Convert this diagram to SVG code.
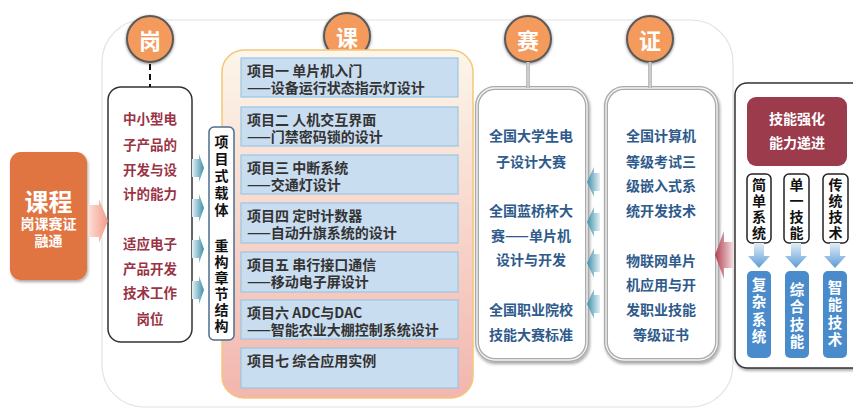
<svg xmlns="http://www.w3.org/2000/svg" width="853" height="408" viewBox="0 0 853 408">
<defs>
<style>
text{font-family:"Noto Sans CJK SC","Noto Sans",sans-serif;font-weight:bold;dominant-baseline:central}
.c{text-anchor:middle}
.proj{fill:#C9DDF0;stroke:#9CC6E2;stroke-width:1.2}
.pt{font-size:14px;fill:#333}
.gt{font-size:13.5px;fill:#9A3345;text-anchor:middle}
.st{font-size:14px;fill:#2E5A8C;text-anchor:middle}
.circ{fill:#F39A5C;stroke:#5A5A5A;stroke-width:2}
.ct{font-size:22px;fill:#fff;text-anchor:middle}
.vt{font-size:14px;fill:#111;writing-mode:tb;text-orientation:upright}
.wt{font-size:14.5px;fill:#fff;writing-mode:tb;text-orientation:upright;letter-spacing:3px}
.sb1{fill:#fff;stroke:#ABABAB;stroke-width:4}
.sb2{fill:none;stroke:#F4F4F4;stroke-width:1.3}
.small{fill:#fff;stroke:#222;stroke-width:1.5}
.blue{fill:#4A8BCB}
</style>
<filter id="sh" x="-20%" y="-20%" width="140%" height="140%"><feDropShadow dx="1" dy="2" stdDeviation="1.5" flood-color="#000" flood-opacity="0.35"/></filter>
<filter id="csh" x="-30%" y="-30%" width="160%" height="160%"><feDropShadow dx="0" dy="1" stdDeviation="1.5" flood-color="#000" flood-opacity="0.45"/></filter>
<linearGradient id="projbg" x1="0" y1="0" x2="0" y2="1"><stop offset="0" stop-color="#FDF6EA"/><stop offset="1" stop-color="#F2B6AE"/></linearGradient>
<linearGradient id="tealR" x1="0" y1="0" x2="1" y2="0"><stop offset="0" stop-color="#E4F0F4"/><stop offset="1" stop-color="#3E8FAA"/></linearGradient>
<linearGradient id="tealL" x1="1" y1="0" x2="0" y2="0"><stop offset="0" stop-color="#E4F0F4"/><stop offset="1" stop-color="#3E8FAA"/></linearGradient>
<linearGradient id="pinkR" x1="0" y1="0" x2="1" y2="0"><stop offset="0" stop-color="#FCE0D8"/><stop offset="1" stop-color="#F39A88"/></linearGradient>
<linearGradient id="redL" x1="1" y1="0" x2="0" y2="0"><stop offset="0" stop-color="#F4E4E6"/><stop offset="1" stop-color="#B2404F"/></linearGradient>
<linearGradient id="blueD" x1="0" y1="0" x2="0" y2="1"><stop offset="0" stop-color="#E2EEF9"/><stop offset="1" stop-color="#5C9BD6"/></linearGradient>
</defs>

<g id="background">
<rect x="102" y="20" width="631" height="387" rx="42" fill="#fff" stroke="#E2E2E2" stroke-width="1.2"/>
</g>

<g id="course">
<rect x="10" y="152" width="77" height="128" rx="11" fill="#E07442" filter="url(#sh)"/>
<text class="c" style="fill:#fff"><tspan x="48.5" y="200" style="font-size:24px">课程</tspan><tspan x="48.5" y="223" style="font-size:14px">岗课赛证</tspan><tspan x="48.5" y="240" style="font-size:14px">融通</tspan></text>
</g>

<g id="gang-circle">
<circle cx="150" cy="39" r="23" class="circ" filter="url(#csh)"/>
<text x="150" y="39" class="ct">岗</text>
</g>

<g id="gang-box">
<rect x="108" y="87" width="84" height="255" rx="13" fill="#fff" stroke="#333" stroke-width="1.5"/>
<text x="150" y="118" class="gt">中小型电</text>
<text x="150" y="144" class="gt">子产品的</text>
<text x="150" y="169" class="gt">开发与设</text>
<text x="150" y="193" class="gt">计的能力</text>
<text x="150" y="243" class="gt">适应电子</text>
<text x="150" y="268" class="gt">产品开发</text>
<text x="150" y="292" class="gt">技术工作</text>
<text x="150" y="318" class="gt">岗位</text>
</g>

<g id="ke-circle">
<circle cx="347" cy="36" r="23" class="circ" filter="url(#csh)"/>
<text x="347" y="36" class="ct">课</text>
</g>

<g id="projects">
<rect x="222" y="50" width="251" height="348" rx="22" fill="url(#projbg)" stroke="#F5C67A" stroke-width="1.5"/>
<g id="project1"><rect x="241" y="58" width="217" height="39" class="proj"/>
<text class="pt"><tspan x="247" y="70">项目一 单片机入门</tspan><tspan x="247" y="87">——设备运行状态指示灯设计</tspan></text></g>
<g id="project2"><rect x="241" y="107" width="217" height="39" class="proj"/>
<text class="pt"><tspan x="247" y="119">项目二 人机交互界面</tspan><tspan x="247" y="136">——门禁密码锁的设计</tspan></text></g>
<g id="project3"><rect x="241" y="155" width="217" height="39" class="proj"/>
<text class="pt"><tspan x="247" y="167">项目三 中断系统</tspan><tspan x="247" y="184">——交通灯设计</tspan></text></g>
<g id="project4"><rect x="241" y="203" width="217" height="40" class="proj"/>
<text class="pt"><tspan x="247" y="215">项目四 定时计数器</tspan><tspan x="247" y="232">——自动升旗系统的设计</tspan></text></g>
<g id="project5"><rect x="241" y="252" width="217" height="40" class="proj"/>
<text class="pt"><tspan x="247" y="264">项目五 串行接口通信</tspan><tspan x="247" y="281">——移动电子屏设计</tspan></text></g>
<g id="project6"><rect x="241" y="300" width="217" height="39" class="proj"/>
<text class="pt"><tspan x="247" y="312">项目六 ADC与DAC</tspan><tspan x="247" y="329">——智能农业大棚控制系统设计</tspan></text></g>
<g id="project7"><rect x="241" y="348" width="217" height="40" class="proj"/>
<text x="247" y="360" class="pt">项目七 综合应用实例</text></g>
</g>

<g id="carrier-box">
<rect x="209" y="127" width="25" height="213" rx="5" fill="#fff" stroke="#4C6E8E" stroke-width="1.5"/>
<text x="221.5" y="135" class="vt" style="letter-spacing:3px">项目式载体</text>
<text x="221.5" y="239" class="vt" style="letter-spacing:2px">重构章节结构</text>
</g>

<g id="sai-circle">
<circle cx="528" cy="39" r="23" class="circ" filter="url(#csh)"/>
<text x="528" y="39" class="ct">赛</text>
</g>

<g id="sai-box">
<rect x="477" y="88" width="110" height="272" rx="18" class="sb1" filter="url(#sh)"/>
<rect x="477" y="88" width="110" height="272" rx="18" class="sb2"/>
<text x="531" y="135" class="st">全国大学生电</text>
<text x="531" y="161" class="st">子设计大赛</text>
<text x="531" y="210" class="st">全国蓝桥杯大</text>
<text x="531" y="235" class="st">赛——单片机</text>
<text x="531" y="259" class="st">设计与开发</text>
<text x="531" y="309" class="st">全国职业院校</text>
<text x="531" y="334" class="st">技能大赛标准</text>
</g>

<g id="zheng-circle">
<circle cx="650" cy="39" r="23" class="circ" filter="url(#csh)"/>
<text x="650" y="39" class="ct">证</text>
</g>

<g id="zheng-box">
<rect x="606" y="88" width="111" height="272" rx="18" class="sb1" filter="url(#sh)"/>
<rect x="606" y="88" width="111" height="272" rx="18" class="sb2"/>
<text x="661" y="135" class="st">全国计算机</text>
<text x="661" y="161" class="st">等级考试三</text>
<text x="661" y="185" class="st">级嵌入式系</text>
<text x="661" y="210" class="st">统开发技术</text>
<text x="661" y="260" class="st">物联网单片</text>
<text x="661" y="284" class="st">机应用与开</text>
<text x="661" y="309" class="st">发职业技能</text>
<text x="661" y="334" class="st">等级证书</text>
</g>

<g id="skill-panel">
<rect x="735" y="83" width="130" height="285" rx="12" fill="#fff" stroke="#333" stroke-width="1.5" filter="url(#sh)"/>
<g id="skill-title"><rect x="747" y="97" width="100" height="69" rx="9" fill="#9B3B4B"/>
<text x="797" y="118" class="c" style="font-size:14px;fill:#fff">技能强化</text>
<text x="797" y="142" class="c" style="font-size:14px;fill:#fff">能力递进</text></g>
<g id="simple"><rect x="747" y="174" width="24" height="69" rx="5" class="small"/>
<text x="759" y="178" class="vt" style="letter-spacing:2px">简单系统</text></g>
<g id="single"><rect x="784" y="174" width="25" height="69" rx="5" class="small"/>
<text x="796.5" y="178" class="vt" style="letter-spacing:2px">单一技能</text></g>
<g id="traditional"><rect x="823" y="174" width="25" height="69" rx="5" class="small"/>
<text x="835.5" y="178" class="vt" style="letter-spacing:2px">传统技术</text></g>
<g id="complex"><rect x="747" y="271" width="24" height="87" rx="5" class="blue"/>
<text x="759" y="277" class="wt">复杂系统</text></g>
<g id="integrated"><rect x="785" y="271" width="24" height="87" rx="5" class="blue"/>
<text x="797" y="282" class="wt">综合技能</text></g>
<g id="smart"><rect x="823" y="271" width="24" height="87" rx="5" class="blue"/>
<text x="835" y="280" class="wt">智能技术</text></g>
</g>

<g id="connectors">
<polygon points="88,205 99,205 99,199 108,221 99,243 99,237 88,237" fill="url(#pinkR)"/>
<line x1="150" y1="64" x2="150" y2="87" stroke="#111" stroke-width="2" stroke-dasharray="6,4"/>
<line x1="528" y1="62" x2="528" y2="88" stroke="#A8A8A8" stroke-width="3.5"/>
<line x1="528" y1="62" x2="528" y2="88" stroke="#F0F0F0" stroke-width="1"/>
<line x1="650" y1="62" x2="650" y2="88" stroke="#A8A8A8" stroke-width="3.5"/>
<line x1="650" y1="62" x2="650" y2="88" stroke="#F0F0F0" stroke-width="1"/>
<polygon points="192,159 199,159 199,154 204,168 199,182 199,177 192,177" fill="url(#tealR)"/>
<polygon points="192,199 199,199 199,194 204,208 199,222 199,217 192,217" fill="url(#tealR)"/>
<polygon points="192,240 199,240 199,235 204,249 199,263 199,258 192,258" fill="url(#tealR)"/>
<polygon points="192,281 199,281 199,276 204,290 199,304 199,299 192,299" fill="url(#tealR)"/>
<polygon points="600,173 594,173 594,167 587,182 594,197 594,191 600,191" fill="url(#tealL)"/>
<polygon points="600,213 594,213 594,207 587,222 594,237 594,231 600,231" fill="url(#tealL)"/>
<polygon points="600,254 594,254 594,248 587,263 594,278 594,272 600,272" fill="url(#tealL)"/>
<polygon points="600,295 594,295 594,289 587,304 594,319 594,313 600,313" fill="url(#tealL)"/>
<polygon points="734,242 724,242 724,231 715,255 724,279 724,268 734,268" fill="url(#redL)"/>
<polygon points="754,243 764,243 764,256 770,256 759,268 748,256 754,256" fill="url(#blueD)"/>
<polygon points="791,243 801,243 801,256 807,256 796,268 785,256 791,256" fill="url(#blueD)"/>
<polygon points="830,243 840,243 840,256 846,256 835,268 824,256 830,256" fill="url(#blueD)"/>
</g>
</svg>
